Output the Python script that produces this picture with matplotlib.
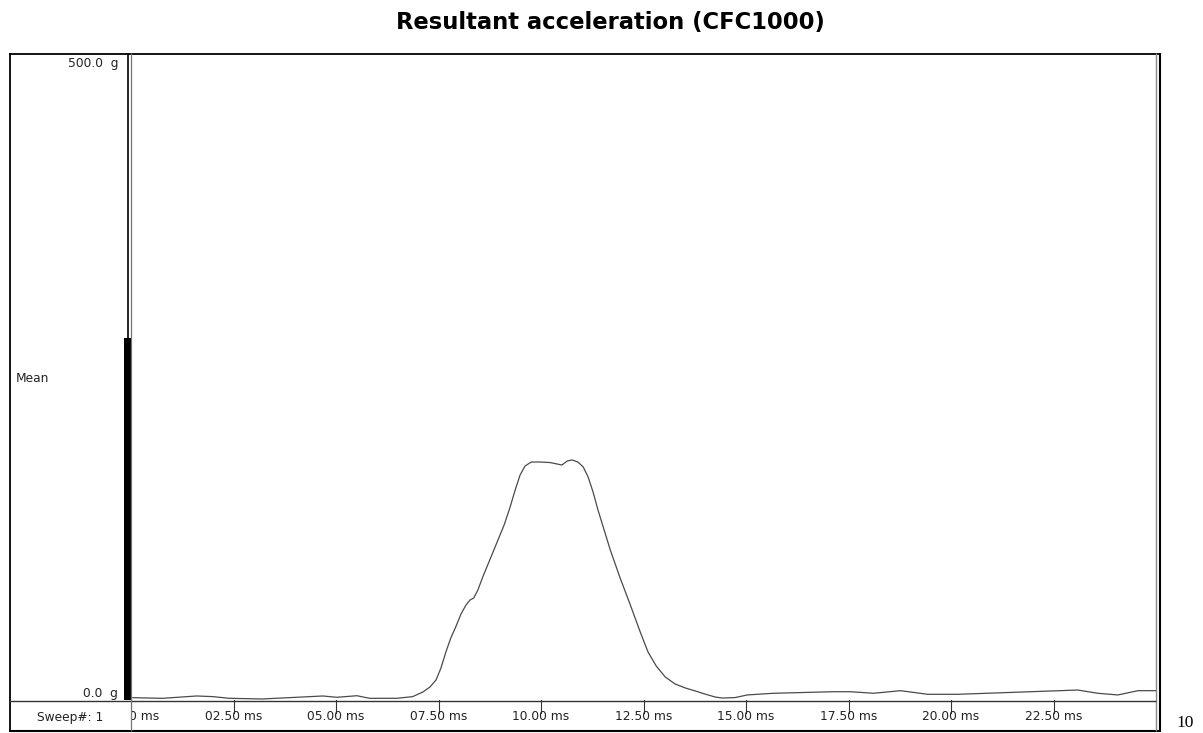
import matplotlib
matplotlib.use("Agg")
import matplotlib.pyplot as plt
from matplotlib.lines import Line2D

# Resultant acceleration trace (time in ms, acceleration in g)
time_ms = [0.04, 0.77, 1.60, 2.00, 2.40, 3.20, 4.04, 4.68, 5.02, 5.51, 5.82, 6.48,
           6.87, 7.12, 7.29, 7.44, 7.56, 7.68, 7.80, 7.93, 8.05, 8.17, 8.27, 8.36,
           8.46, 8.58, 8.75, 8.92, 9.10, 9.24, 9.37, 9.49, 9.61, 9.76, 9.98, 10.22,
           10.39, 10.51, 10.64, 10.76, 10.90, 11.03, 11.15, 11.27, 11.39, 11.54,
           11.69, 11.93, 12.17, 12.42, 12.61, 12.81, 13.03, 13.27, 13.52, 13.76,
           14.00, 14.25, 14.42, 14.74, 15.03, 15.67, 17.13, 17.55, 18.11, 18.77,
           19.43, 20.16, 21.94, 23.09, 23.58, 24.07, 24.56, 25.00]
accel_g = [1.8, 1.3, 3.1, 2.6, 1.3, 0.8, 2.1, 3.1, 2.1, 3.3, 1.3, 1.3,
           2.6, 6.2, 10.0, 15.5, 24.7, 37.1, 47.9, 57.2, 66.5, 73.4, 77.3, 78.8,
           85.0, 95.1, 108.2, 121.3, 135.2, 148.4, 162.3, 173.9, 180.8, 183.9, 183.9, 183.5,
           182.4, 181.6, 184.7, 185.5, 183.9, 180.1, 172.3, 160.7, 146.8, 131.4,
           115.9, 94.3, 74.2, 52.6, 37.1, 26.3, 17.8, 12.4, 9.3, 7.0,
           4.6, 2.3, 1.5, 1.9, 3.9, 5.2, 6.4, 6.4, 5.2, 7.2,
           4.4, 4.4, 6.4, 7.7, 5.2, 3.9, 7.2, 7.2]

# Axis scale and ticks
x_max_ms = 25.0
y_max_g = 500.0
tick_ms = [0.0, 2.5, 5.0, 7.5, 10.0, 12.5, 15.0, 17.5, 20.0, 22.5]
tick_labels = ["00.00 ms", "02.50 ms", "05.00 ms", "07.50 ms", "10.00 ms",
               "12.50 ms", "15.00 ms", "17.50 ms", "20.00 ms", "22.50 ms"]
mean_level_g = 280.0

title = "Resultant acceleration (CFC1000)"

W, H = 1203, 733
fig = plt.figure(figsize=(W / 100, H / 100), dpi=100)
fig.patch.set_facecolor("white")


def px_axes(x0, y0, x1, y1, **kw):
    """Axes placed by pixel box (top-left origin)."""
    return fig.add_axes([x0 / W, 1 - y1 / H, (x1 - x0) / W, (y1 - y0) / H], **kw)


PLOT_L, PLOT_R, PLOT_T, PLOT_B = 131, 1156, 53, 700
STRIP_B = 730

# Main trace area
ax = px_axes(PLOT_L, PLOT_T, PLOT_R, PLOT_B)
ax.plot(time_ms, accel_g, color="#4a4a4a", lw=0.9,
        solid_joinstyle="round", solid_capstyle="round")
ax.set_xlim(0, x_max_ms)
ax.set_ylim(0, y_max_g)
ax.axis("off")

# Level bar on the left of the trace
axbar = px_axes(124, PLOT_T, 131, PLOT_B)
axbar.bar([0], [mean_level_g], width=1.0, color="black")
axbar.set_xlim(-0.5, 0.5)
axbar.set_ylim(0, y_max_g)
axbar.axis("off")

# Time tick strip
axs = px_axes(PLOT_L, PLOT_B, PLOT_R, STRIP_B)
axs.set_xlim(0, x_max_ms)
axs.set_ylim(0, 30)
axs.axis("off")
for t, lab in zip(tick_ms, tick_labels):
    axs.plot([t, t], [30, 17], color="#333333", lw=0.8, clip_on=True)
    axs.text(t, 13, lab, ha="center", va="center", fontsize=8.8,
             color="#222222", clip_on=True)

# Frame lines and labels
ov = fig.add_axes([0, 0, 1, 1], zorder=5)
ov.set_xlim(0, W)
ov.set_ylim(H, 0)
ov.axis("off")
ov.patch.set_alpha(0)


def seg(x0, y0, x1, y1, c="black", lw=1.0):
    ov.add_line(Line2D([x0, x1], [y0, y1], color=c, lw=lw, solid_capstyle="butt"))


seg(9.5, 53, 9.5, 731, lw=1.3)
seg(9, 53.5, 1161, 53.5, lw=1.3)
seg(9, 730.5, 1161, 730.5, lw=1.5)
seg(1156, 53, 1156, 731, c="#888888", lw=1.0)
seg(1160, 53, 1160, 731, lw=1.5)
seg(9, 700.5, 1156, 700.5, c="#333333", lw=1.0)
seg(127.5, 53, 127.5, 700, lw=1.2)
seg(130.8, 53, 130.8, 731, c="#777777", lw=0.9)

ov.text(118, 64, "500.0  g", ha="right", va="center", fontsize=8.8, color="#222222")
ov.text(118, 693, "0.0  g", ha="right", va="center", fontsize=8.8, color="#222222")
ov.text(16, 378, "Mean", ha="left", va="center", fontsize=8.8, color="#222222")
ov.text(70, 717, "Sweep#: 1", ha="center", va="center", fontsize=8.8, color="#222222")
ov.text(1185, 723, "10", ha="center", va="center", fontsize=12.5,
        family="Liberation Serif", color="black")

fig.text(610 / W, 1 - 22 / H, title, ha="center", va="center",
         fontsize=16.3, fontweight="bold", color="black")

fig.savefig("out.png", dpi=100, facecolor="white")
